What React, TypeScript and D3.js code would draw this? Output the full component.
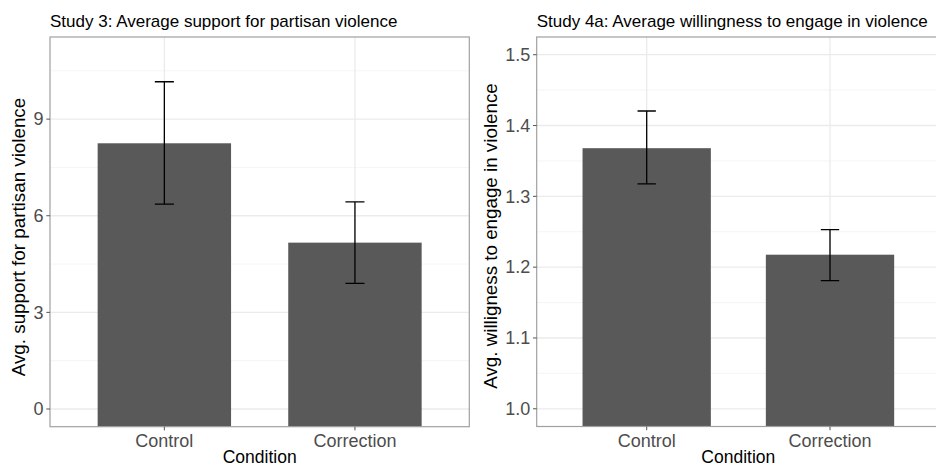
import { useMemo } from "react";
import * as d3 from "d3";

const WIDTH = 936;
const HEIGHT = 467;
const FONT = "'Liberation Sans', Arial, sans-serif";

// data
const conditions = ["Control", "Correction"];

const study3Means = [8.25, 5.165];
const study3Lower = [6.36, 3.9];
const study3Upper = [10.16, 6.43];
const study3Ticks = [0, 3, 6, 9];
const study3Minor = [1.5, 4.5, 7.5, 10.5];
const study3Limits = [0, 11];

const study4aMeans = [1.368, 1.2176];
const study4aLower = [1.3175, 1.181];
const study4aUpper = [1.4205, 1.253];
const study4aTicks = [1.0, 1.1, 1.2, 1.3, 1.4, 1.5];
const study4aMinor = [1.05, 1.15, 1.25, 1.35, 1.45];
const study4aLimits = [1.0, 1.5];

type PanelProps = {
  left: number;
  right: number;
  top: number;
  bottom: number;
  title: string;
  yTitle: string;
  yTitleX: number;
  yTitleY: number;
  means: number[];
  lower: number[];
  upper: number[];
  ticks: number[];
  minor: number[];
  limits: number[];
  tickFormat: (v: number) => string;
};

const Panel = ({
  left, right, top, bottom, title, yTitle, yTitleX, yTitleY,
  means, lower, upper, ticks, minor, limits, tickFormat,
}: PanelProps) => {
  const span = limits[1] - limits[0];
  // ggplot style 5% expansion around the limits
  const yScale = useMemo(
    () => d3.scaleLinear().domain([limits[0] - span * 0.05, limits[1] + span * 0.05]).range([bottom, top]),
    [limits, top, bottom]
  );
  const xScale = useMemo(
    () => d3.scaleBand().domain(conditions).range([left, right]).paddingInner(0.3).paddingOuter(0.25),
    [left, right]
  );
  const step = xScale.step();
  const cx = (c: string) => (xScale(c) ?? 0) + xScale.bandwidth() / 2;
  const capHalf = step * 0.05;
  const clipId = `clip-${Math.round(left)}`;

  return (
    <g>
      <defs>
        <clipPath id={clipId}>
          <rect x={left} y={top} width={right - left} height={bottom - top} />
        </clipPath>
      </defs>
      <rect x={left} y={top} width={right - left} height={bottom - top} fill="#fff" />
      <g clipPath={`url(#${clipId})`}>
        {minor.map((v) => (
          <line key={`mi${v}`} x1={left} x2={right} y1={yScale(v)} y2={yScale(v)} stroke="#f2f2f2" strokeWidth={0.8} />
        ))}
        {ticks.map((v) => (
          <line key={`ma${v}`} x1={left} x2={right} y1={yScale(v)} y2={yScale(v)} stroke="#ebebeb" strokeWidth={1.3} />
        ))}
        {conditions.map((c) => (
          <line key={`vg${c}`} x1={cx(c)} x2={cx(c)} y1={top} y2={bottom} stroke="#ebebeb" strokeWidth={1.3} />
        ))}
        {conditions.map((c, i) => (
          <rect
            key={`bar${c}`}
            x={xScale(c)}
            width={xScale.bandwidth()}
            y={yScale(means[i])}
            height={yScale(Math.min(0, limits[0] - span)) - yScale(means[i])}
            fill="#595959"
          />
        ))}
        {conditions.map((c, i) => (
          <g key={`err${c}`} stroke="#000" strokeWidth={1.3}>
            <line x1={cx(c)} x2={cx(c)} y1={yScale(lower[i])} y2={yScale(upper[i])} />
            <line x1={cx(c) - capHalf} x2={cx(c) + capHalf} y1={yScale(lower[i])} y2={yScale(lower[i])} />
            <line x1={cx(c) - capHalf} x2={cx(c) + capHalf} y1={yScale(upper[i])} y2={yScale(upper[i])} />
          </g>
        ))}
      </g>
      <rect x={left} y={top} width={right - left} height={bottom - top} fill="none" stroke="#a0a0a0" strokeWidth={1.2} />

      {/* y axis */}
      {ticks.map((v) => (
        <g key={`yt${v}`}>
          <line x1={left - 3.7} x2={left} y1={yScale(v)} y2={yScale(v)} stroke="#555" strokeWidth={1} />
          <text x={left - 6.5} y={yScale(v)} dy="0.35em" textAnchor="end" fontSize={18} fill="#4d4d4d" fontFamily={FONT}>
            {tickFormat(v)}
          </text>
        </g>
      ))}

      {/* x axis */}
      {conditions.map((c) => (
        <g key={`xt${c}`}>
          <line x1={cx(c)} x2={cx(c)} y1={bottom} y2={bottom + 3.7} stroke="#555" strokeWidth={1} />
          <text x={cx(c)} y={bottom + 20} textAnchor="middle" fontSize={18} fill="#4d4d4d" fontFamily={FONT}>
            {c}
          </text>
        </g>
      ))}

      <text x={(left + right) / 2} y={463} textAnchor="middle" fontSize={17.5} fill="#000" fontFamily={FONT}>
        Condition
      </text>
      <text
        transform={`translate(${yTitleX},${yTitleY}) rotate(-90)`}
        textAnchor="middle"
        fontSize={18.8}
        fill="#000"
        fontFamily={FONT}
      >
        {yTitle}
      </text>
      <text x={left} y={26.5} fontSize={17} fill="#000" fontFamily={FONT}>
        {title}
      </text>
    </g>
  );
};

export default function App() {
  return (
    <div style={{ position: "absolute", left: 0, top: 0, width: WIDTH, height: HEIGHT, overflow: "hidden", background: "#fff" }}>
      <svg width={WIDTH} height={HEIGHT} style={{ display: "block" }}>
        <rect width={WIDTH} height={HEIGHT} fill="#fff" />
        <Panel
          left={50}
          right={469.3}
          top={37}
          bottom={426.7}
          title="Study 3: Average support for partisan violence"
          yTitle="Avg. support for partisan violence"
          yTitleX={25}
          yTitleY={237}
          means={study3Means}
          lower={study3Lower}
          upper={study3Upper}
          ticks={study3Ticks}
          minor={study3Minor}
          limits={study3Limits}
          tickFormat={(v) => d3.format("d")(v)}
        />
        <Panel
          left={536.7}
          right={940}
          top={37}
          bottom={426.5}
          title="Study 4a: Average willingness to engage in violence"
          yTitle="Avg. willigness to engage in violence"
          yTitleX={497}
          yTitleY={236}
          means={study4aMeans}
          lower={study4aLower}
          upper={study4aUpper}
          ticks={study4aTicks}
          minor={study4aMinor}
          limits={study4aLimits}
          tickFormat={(v) => d3.format(".1f")(v)}
        />
      </svg>
    </div>
  );
}
